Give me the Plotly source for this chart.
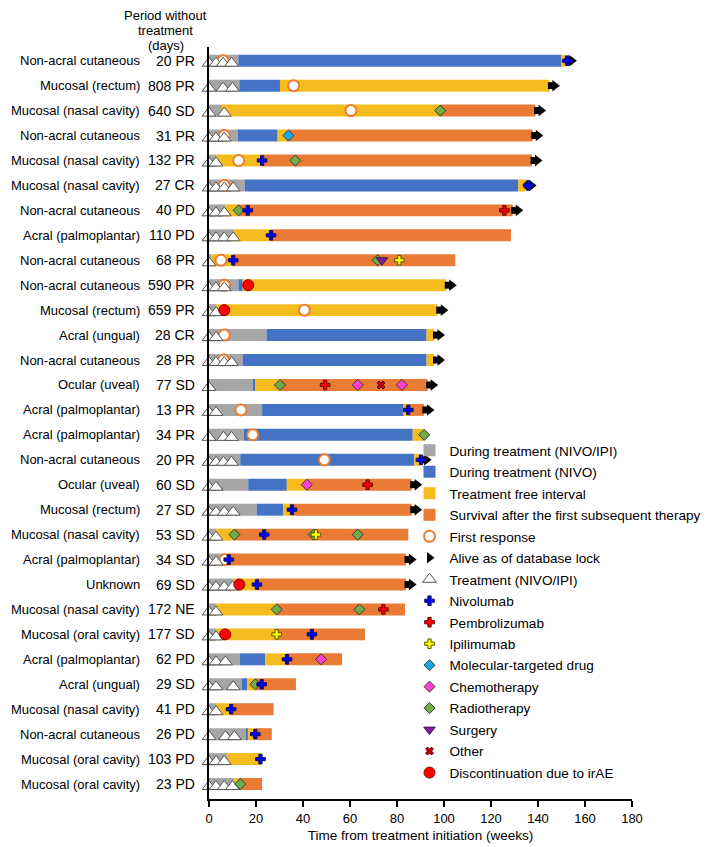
import plotly.graph_objects as go

subtype = ["Non-acral cutaneous", "Mucosal (rectum)", "Mucosal (nasal cavity)", "Non-acral cutaneous",
           "Mucosal (nasal cavity)", "Mucosal (nasal cavity)", "Non-acral cutaneous", "Acral (palmoplantar)",
           "Non-acral cutaneous", "Non-acral cutaneous", "Mucosal (rectum)", "Acral (ungual)",
           "Non-acral cutaneous", "Ocular (uveal)", "Acral (palmoplantar)", "Acral (palmoplantar)",
           "Non-acral cutaneous", "Ocular (uveal)", "Mucosal (rectum)", "Mucosal (nasal cavity)",
           "Acral (palmoplantar)", "Unknown", "Mucosal (nasal cavity)", "Mucosal (oral cavity)",
           "Acral (palmoplantar)", "Acral (ungual)", "Mucosal (nasal cavity)", "Non-acral cutaneous",
           "Mucosal (oral cavity)", "Mucosal (oral cavity)"]
period_response = ["20 PR", "808 PR", "640 SD", "31 PR", "132 PR", "27 CR", "40 PD", "110 PD", "68 PR",
                   "590 PR", "659 PR", "28 CR", "28 PR", "77 SD", "13 PR", "34 PR", "20 PR", "60 SD",
                   "27 SD", "53 SD", "34 SD", "69 SD", "172 NE", "177 SD", "62 PD", "29 SD", "41 PD",
                   "26 PD", "103 PD", "23 PD"]
header_lines = ["Period without", "treatment", "(days)"]

# segment end points (weeks); segments are consecutive
nivo_ipi_end = [12.5, 12.9, 5.5, 12.2, 3, 15.3, 7, 10.3, 1, 12.5, 3, 24.5, 14.3, 18.9, 22.6, 14.8,
                13.3, 16.7, 20.3, 3, 6, 10.5, 3, 3, 13.2, 13.9, 3, 16, 8, 10.8]
nivo_end = [149.8, 30.2, 5.5, 29.2, 3, 131.6, 7, 10.3, 1, 14.3, 3, 92.6, 92.6, 19.6, 82.8, 86.7,
            87.4, 33.1, 31.6, 3, 6, 10.5, 3, 3, 24, 16.2, 3, 16.5, 8, 10.8]
tfi_end = [152, 144.8, 98.4, 33.8, 22.6, 134.9, 12.6, 26.4, 10.3, 100.9, 97.3, 95.9, 95.9, 30.2, 84.8,
           91.6, 90.2, 41.6, 35.3, 10.8, 8.4, 20.4, 28.8, 28.8, 33.2, 19.7, 9.4, 19.7, 22.1, 12.5]
survival_end = [152, 144.8, 138.9, 137.7, 137.4, 134.9, 129.2, 128.5, 104.8, 100.9, 97.3, 95.9, 95.9,
                93, 91.4, 91.6, 90.2, 86.2, 86.2, 84.8, 83.8, 83.8, 83.4, 66.4, 56.6, 37, 27.5, 26.7,
                22.1, 22.6]
alive_rows = [1, 2, 3, 4, 5, 6, 7, 10, 11, 12, 13, 14, 15, 17, 18, 19, 21, 22]

treatment_weeks = [[0, 3, 6, 9.6], [0, 6, 10], [0, 6.5], [0, 3, 6.5], [0, 3], [0, 3, 6.5, 10.3],
                   [0, 3, 6.5], [0, 3, 6.5, 10.3], [0], [0, 3, 6.5], [0, 3], [0, 3],
                   [0, 3, 6.5, 9.6], [0], [0, 3], [0, 6.2, 9.6], [0, 3, 6.2, 9.6], [0, 3],
                   [0, 3, 6.5, 10.3], [0, 3], [0, 3], [0, 3, 6.5, 10], [0, 3], [0, 3], [0, 3, 7],
                   [0, 3, 10.3], [0, 3], [0, 7, 10.8], [0, 3, 6.5], [0, 3, 6.5, 10]]

# events: (row number, week)
first_response = [(1, 6), (2, 36), (3, 60.4), (4, 6.5), (5, 12.6), (6, 6.5), (9, 5.1), (10, 6.5),
                  (11, 40.6), (12, 6.5), (13, 6.2), (15, 13.6), (16, 18.6), (17, 49.1), (21, 6.8)]
nivolumab = [(1, 152.5), (5, 22.6), (6, 135.8), (7, 16.5), (8, 26.4), (9, 10.3), (15, 84.8), (17, 90.2),
             (19, 35.3), (20, 23.5), (21, 8.4), (22, 20.4), (24, 43.8), (25, 33.2), (26, 22.4),
             (27, 9.4), (28, 19.7), (29, 21.9)]
pembrolizumab = [(7, 125.7), (14, 49.4), (18, 67.5), (23, 74.2)]
ipilimumab = [(9, 81), (20, 45.5), (24, 28.8)]
molecular = [(4, 33.8)]
chemotherapy = [(14, 63.3), (14, 82.1), (18, 41.6), (25, 47.7)]
radiotherapy = [(3, 98.4), (5, 36.7), (7, 12.6), (9, 71.8), (14, 30.2), (16, 91.6), (20, 10.8),
                (20, 44.5), (20, 63.3), (23, 28.8), (23, 64), (26, 19.7), (30, 13.3)]
surgery = [(9, 73.6)]
other = [(14, 73.2)]
irae = [(10, 16.7), (11, 6.5), (22, 12.9), (24, 6.9)]

FONT = "Liberation Sans, Arial, sans-serif"
n = len(subtype)
rows = list(range(n))

fig = go.Figure()

seg_defs = [
    ("During treatment (NIVO/IPI)", [0] * n, nivo_ipi_end, "#A6A6A6", 1),
    ("During treatment (NIVO)", nivo_ipi_end, nivo_end, "#4472C4", 2),
    ("Treatment free interval", nivo_end, tfi_end, "#F6BC1F", 3),
    ("Survival after the first subsequent therapy", tfi_end, survival_end, "#E97B35", 4),
]
for name, start, end, color, rank in seg_defs:
    fig.add_trace(go.Bar(
        y=rows, base=start, x=[e - s for s, e in zip(start, end)], orientation="h",
        marker=dict(color=color, line=dict(width=0)), width=0.48, name=name,
        legendrank=rank, legendgroup=name, hoverinfo="skip"))


def ev(pairs):
    return [w for r, w in pairs], [r - 1 for r, w in pairs]


def add_markers(pairs, name, symbol, size, fill, line_color, line_w, rank, yoff=0.0, show=True,
                group=None):
    xs, ys = ev(pairs)
    fig.add_trace(go.Scatter(
        x=xs, y=[y + yoff for y in ys], mode="markers", name=name, cliponaxis=False,
        marker=dict(symbol=symbol, size=size, color=fill, line=dict(color=line_color, width=line_w)),
        legendrank=rank, legendgroup=group or name, showlegend=show, hoverinfo="skip"))


add_markers(first_response, "First response", "circle", 11, "white", "#ED7D31", 2, 5)

tri = [(i + 1, w) for i, ws in enumerate(treatment_weeks) for w in ws]
add_markers(tri, "Treatment (NIVO/IPI)", "triangle-up", 12, "white", "#555555", 1, 7, yoff=0.1)

alive_stem = [(r, survival_end[r - 1] + 0.9) for r in alive_rows]
alive_head = [(r, survival_end[r - 1] + 2.4) for r in alive_rows]
add_markers(alive_stem, "alive_stem", "square", 7, "black", "black", 0, 6, show=False,
            group="Alive as of database lock")
add_markers(alive_head, "Alive as of database lock", "triangle-right", 10, "black", "black", 0, 6)

add_markers(radiotherapy, "Radiotherapy", "diamond", 8.5, "#70AD47", "#3A3A3A", 1, 13)
add_markers(chemotherapy, "Chemotherapy", "diamond", 8.5, "#FF3FD2", "#3A3A3A", 1, 12)
add_markers(molecular, "Molecular-targeted drug", "diamond", 8.5, "#1BA8E8", "#3A3A3A", 1, 11)
add_markers(nivolumab, "Nivolumab", "cross", 8, "#0000FF", "#101050", 1, 8)
add_markers(pembrolizumab, "Pembrolizumab", "cross", 8, "#FF0000", "#600000", 1, 9)
add_markers(ipilimumab, "Ipilimumab", "cross", 8, "#FFFF00", "#555500", 1, 10)
add_markers(surgery, "Surgery", "triangle-down", 10, "#7F1F9F", "#3A1A4A", 1, 14)
add_markers(other, "Other", "x", 7, "#C00000", "#600000", 1, 15)
add_markers(irae, "Discontinuation due to irAE", "circle", 11, "#FF0000", "#8B0000", 1, 16)

# left labels
for i in rows:
    fig.add_annotation(x=-0.159, y=i, xref="paper", yref="y", text=subtype[i], showarrow=False,
                       xanchor="right", yanchor="middle", font=dict(size=13, color="black", family=FONT))
    fig.add_annotation(x=-0.0284, y=i, xref="paper", yref="y", text=period_response[i], showarrow=False,
                       xanchor="right", yanchor="middle", font=dict(size=14, color="black", family=FONT))

# header lines (plot area spans page pixels 47..799 vertically)
for line, py in zip(header_lines, [15.5, 30.5, 45.5]):
    fig.add_annotation(x=-0.102, y=(799 - py) / 752, xref="paper", yref="paper", text=line,
                       showarrow=False, xanchor="center", yanchor="middle", borderpad=0,
                       font=dict(size=13, color="black", family=FONT))

fig.update_layout(
    width=701, height=839,
    margin=dict(l=201, r=77, t=39, b=48, autoexpand=False),
    paper_bgcolor="white", plot_bgcolor="white",
    barmode="overlay",
    font=dict(family=FONT, size=13, color="black"),
    showlegend=True,
    legend=dict(x=0.474, y=0.484, xanchor="left", yanchor="top", bgcolor="rgba(0,0,0,0)",
                font=dict(size=13.6, color="black", family=FONT), traceorder="grouped",
                tracegroupgap=0.8),
    xaxis=dict(range=[0, 180], tickvals=list(range(0, 181, 20)), showline=True, linewidth=2,
               linecolor="black", ticks="outside", ticklen=6, tickwidth=2, tickcolor="black",
               showgrid=False, zeroline=False, automargin=False,
               title=dict(text="Time from treatment initiation (weeks)", font=dict(size=13.5), standoff=6),
               tickfont=dict(size=13)),
    yaxis=dict(range=[29.6, -0.55], showline=True, linewidth=2, linecolor="black", automargin=False,
               showticklabels=False, ticks="", showgrid=False, zeroline=False),
)

fig.write_html("out.html")
